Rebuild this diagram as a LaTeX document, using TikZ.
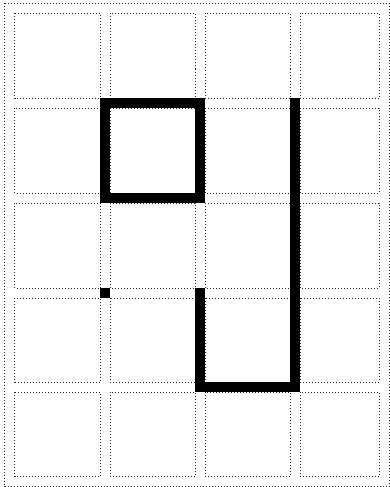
\documentclass[tikz,border=0pt]{standalone}
\usetikzlibrary{calc}
\begin{document}
\begin{tikzpicture}[
    x=1pt, y=-1pt,
    cellline/.style={draw=black!85, line width=0.8pt, dash pattern=on 1pt off 2pt},
    wall/.style={draw=black, line width=10pt, line cap=rect, line join=miter}
  ]
  \useasboundingbox (0,0) rectangle (390,487);

  % Street centres (columns 0-4, rows 0-5)
  \foreach \x [count=\i from 0] in {9.5,105,200,295,384}{
    \foreach \y [count=\j from 0] in {8.5,103,198,293,387,481.5}{
      \coordinate (p-\i-\j) at (\x,\y);
    }
  }

  % Outer border
  \draw[cellline] ($(p-0-0)+(-5,-5)$) rectangle ($(p-4-5)+(5,5)$);

  % Cells
  \foreach \i in {0,...,3}{
    \foreach \j in {0,...,4}{
      \pgfmathtruncatemacro{\ni}{\i+1}
      \pgfmathtruncatemacro{\nj}{\j+1}
      \draw[cellline] ($(p-\i-\j)+(5,5)$) rectangle ($(p-\ni-\nj)+(-5,-5)$);
    }
  }

  % Thick walls
  \draw[wall] (p-1-1) -- (p-2-1) -- (p-2-2) -- (p-1-2) -- cycle;
  \draw[wall] (p-3-1) -- (p-3-4) -- (p-2-4) -- (p-2-3);
  \fill ($(p-1-3)+(-5,-5)$) rectangle ($(p-1-3)+(5,5)$);

\end{tikzpicture}
\end{document}
